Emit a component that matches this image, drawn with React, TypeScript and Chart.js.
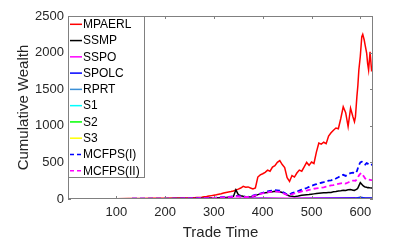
import { useEffect, useRef } from 'react';
import { Chart, registerables } from 'chart.js';
Chart.register(...registerables);

const DAYS = [1, 25, 50, 75, 100, 125, 150, 175, 200, 225, 250,
  255, 260, 265, 270, 275, 280, 285, 290, 295, 300,
  305, 310, 315, 320, 325, 330, 335, 340, 345, 350,
  355, 360, 365, 370, 375, 380, 385, 390, 395, 400,
  405, 410, 415, 420, 425, 430, 435, 440, 445, 450,
  455, 460, 465, 470, 475, 480, 485, 490, 495, 500,
  505, 510, 515, 520, 525, 530, 535, 540, 545, 550,
  555, 560, 565, 570, 575, 580, 585,
  588, 590, 593, 595, 597, 600, 603, 605, 608, 610, 613, 615, 617, 620, 623, 626];

const MPAERL = [1, 2, 3, 4, 5, 6, 7, 9, 11, 13, 15,
  16, 18, 20, 22, 25, 30, 34, 40, 46, 52,
  58, 66, 72, 82, 90, 96, 102, 110, 122, 135,
  150, 172, 160, 165, 150, 138, 150, 300, 330, 345,
  365, 395, 380, 435, 455, 500, 525, 470, 430, 290,
  240, 320, 300, 355, 395, 380, 440, 500, 460, 505,
  485, 640, 765, 750, 775, 755, 860, 905, 940, 970,
  960, 1100, 1260, 1180, 990, 1240, 1120,
  1056, 1120, 1398, 1550, 1762, 1950, 2217, 2250, 2172, 2100, 1994, 1850, 1762, 2012, 1762, 1790];

const SSMP = [1, 1, 2, 2, 3, 3, 4, 4, 5, 6, 7,
  8, 8, 9, 10, 10, 11, 12, 13, 14, 15,
  16, 18, 19, 20, 22, 24, 26, 35, 125, 60,
  45, 38, 32, 28, 27, 30, 45, 60, 70, 80,
  85, 90, 95, 100, 105, 102, 100, 90, 75, 55,
  42, 36, 32, 36, 45, 50, 55, 58, 60, 66,
  70, 74, 78, 82, 84, 86, 88, 90, 98, 102,
  108, 112, 118, 115, 125, 130, 120,
  118, 125, 135, 150, 180, 223, 200, 185, 170, 165, 160, 155, 158, 152, 150, 150];

const MCFPS1 = [1, 1, 2, 2, 3, 3, 4, 4, 5, 6, 7,
  8, 9, 10, 10, 11, 12, 13, 14, 15, 16,
  18, 20, 22, 24, 26, 28, 32, 36, 42, 40,
  36, 34, 30, 30, 34, 45, 55, 65, 75, 85,
  95, 104, 110, 115, 120, 118, 115, 100, 80, 60,
  62, 80, 90, 100, 115, 128, 140, 150, 165, 180,
  192, 202, 215, 222, 230, 240, 250, 255, 265, 280,
  298, 318, 330, 315, 340, 352, 360,
  355, 350, 380, 420, 460, 500, 510, 505, 480, 470, 490, 485, 470, 460, 468, 470];

const MCFPS2 = [1, 1, 2, 2, 3, 3, 4, 4, 5, 6, 7,
  8, 9, 9, 10, 11, 12, 12, 13, 14, 15,
  16, 18, 20, 22, 24, 26, 29, 32, 36, 35,
  32, 30, 27, 27, 30, 40, 50, 60, 70, 78,
  85, 92, 98, 102, 105, 100, 96, 85, 70, 55,
  50, 65, 75, 85, 95, 105, 110, 115, 125, 130,
  140, 145, 150, 155, 160, 168, 175, 185, 190, 200,
  208, 214, 220, 210, 226, 240, 252,
  250, 248, 270, 290, 320, 345, 355, 330, 300, 280, 268, 262, 265, 262, 258, 260];

const LOW_DAYS = [1, 50, 100, 150, 200, 250, 300, 350, 400, 450, 500, 550, 590, 600, 610, 626];
const SSPO = [1, 2, 3, 4, 5, 6, 8, 10, 12, 10, 12, 14, 16, 18, 15, 15];
const SPOLC = [1, 1, 2, 2, 3, 3, 4, 5, 6, 5, 7, 9, 12, 25, 15, 12];
const RPRT = [1, 1, 1, 2, 2, 2, 3, 3, 4, 3, 4, 5, 6, 8, 6, 6];
const S1 = [1, 1, 1, 1, 1, 2, 2, 2, 2, 2, 2, 3, 3, 4, 3, 3];
const S2 = [1, 1, 1, 1, 1, 1, 1, 1, 1, 1, 1, 1, 2, 2, 2, 2];
const S3 = [0, 0, 0, 0, 0, 0, 0, 0, 0, 0, 0, 1, 1, 1, 1, 1];

const SERIES_NAMES = ['MPAERL', 'SSMP', 'SSPO', 'SPOLC', 'RPRT', 'S1', 'S2', 'S3', 'MCFPS(I)', 'MCFPS(II)'];
const X_TICKS = [100, 200, 300, 400, 500, 600];
const Y_TICKS = [0, 500, 1000, 1500, 2000, 2500];

const AXIS = '#808080';
const TEXT = '#262626';
const FONT = 'Liberation Sans, Arial, Helvetica, sans-serif';

const pts = (xs: number[], ys: number[]) => xs.map((x, i) => ({ x, y: ys[i] }));

const boxPlugin = {
  id: 'matlabBox',
  afterDatasetsDraw(chart: any) {
    const { ctx, chartArea: a, scales } = chart;
    const x = scales.x, y = scales.y;
    ctx.save();
    ctx.strokeStyle = AXIS;
    ctx.lineWidth = 1;
    ctx.setLineDash([]);
    ctx.strokeRect(a.left + 0.5, a.top + 0.5, a.right - a.left - 1, a.bottom - a.top - 1);
    ctx.beginPath();
    x.ticks.forEach((t: any) => {
      const px = Math.round(x.getPixelForValue(t.value)) + 0.5;
      ctx.moveTo(px, a.bottom); ctx.lineTo(px, a.bottom - 3);
      ctx.moveTo(px, a.top); ctx.lineTo(px, a.top + 3);
    });
    y.ticks.forEach((t: any) => {
      const py = Math.round(y.getPixelForValue(t.value)) + 0.5;
      ctx.moveTo(a.left, py); ctx.lineTo(a.left + 3, py);
      ctx.moveTo(a.right, py); ctx.lineTo(a.right - 3, py);
    });
    ctx.stroke();
    ctx.restore();
  },
};

const legendPlugin = {
  id: 'insideLegend',
  afterDraw(chart: any) {
    const { ctx, chartArea: a } = chart;
    const left = a.left, top = a.top, w = 76, h = 161;
    ctx.save();
    ctx.fillStyle = '#ffffff';
    ctx.fillRect(left, top, w, h);
    ctx.strokeStyle = AXIS;
    ctx.lineWidth = 1;
    ctx.strokeRect(left + 0.5, top + 0.5, w, h);
    ctx.font = '12px ' + FONT;
    ctx.textBaseline = 'middle';
    ctx.textAlign = 'left';
    chart.data.datasets.forEach((ds: any, i: number) => {
      const yy = top + 8.3 + i * 16.27;
      ctx.beginPath();
      ctx.strokeStyle = ds.borderColor;
      ctx.lineWidth = 1.5;
      ctx.setLineDash(ds.borderDash ? [4, 3] : []);
      ctx.moveTo(left + 2, yy);
      ctx.lineTo(left + 14, yy);
      ctx.stroke();
      ctx.setLineDash([]);
      ctx.fillStyle = '#000000';
      ctx.fillText(ds.label, left + 15, yy + 0.5);
    });
    ctx.restore();
  },
};

export default function App() {
  const ref = useRef<HTMLCanvasElement>(null);
  useEffect(() => {
    const mk = (i: number, xs: number[], ys: number[], color: string, dash?: number[]) => ({
      label: SERIES_NAMES[i],
      data: pts(xs, ys),
      borderColor: color,
      backgroundColor: color,
      borderWidth: dash ? 1.8 : 1.5,
      borderDash: dash,
      pointRadius: 0,
      tension: 0,
      fill: false,
      order: SERIES_NAMES.length - i,
    });
    const chart = new Chart(ref.current!, {
      type: 'line',
      data: {
        datasets: [
          mk(0, DAYS, MPAERL, '#ff0000'),
          mk(1, DAYS, SSMP, '#000000'),
          mk(2, LOW_DAYS, SSPO, '#ff00ff'),
          mk(3, LOW_DAYS, SPOLC, '#0000ff'),
          mk(4, LOW_DAYS, RPRT, '#3a8fd6'),
          mk(5, LOW_DAYS, S1, '#00ffff'),
          mk(6, LOW_DAYS, S2, '#00ff00'),
          mk(7, LOW_DAYS, S3, '#ffff00'),
          mk(8, DAYS, MCFPS1, '#0000ff', [5, 3]),
          mk(9, DAYS, MCFPS2, '#ff00ff', [5, 3]),
        ] as any,
      },
      options: {
        responsive: false,
        animation: false,
        layout: { padding: { left: 0, right: 26, top: 16, bottom: 0 } },
        plugins: { legend: { display: false }, tooltip: { enabled: false } },
        scales: {
          x: {
            type: 'linear',
            min: 1,
            max: 626,
            afterBuildTicks: (s: any) => { s.ticks = X_TICKS.map((v) => ({ value: v })); },
            afterFit: (s: any) => { s.height = 44; },
            grid: { display: false, drawTicks: false },
            border: { display: false },
            ticks: { color: TEXT, font: { family: FONT, size: 13 }, padding: 6, maxRotation: 0, callback: (v: any) => String(v) },
            title: { display: true, text: 'Trade Time', color: TEXT, font: { family: FONT, size: 15 }, padding: { top: 0, bottom: 1 } },
          },
          y: {
            type: 'linear',
            min: 0,
            max: 2500,
            afterBuildTicks: (s: any) => { s.ticks = Y_TICKS.map((v) => ({ value: v })); },
            afterFit: (s: any) => { s.width = 68; },
            grid: { display: false, drawTicks: false },
            border: { display: false },
            ticks: { color: TEXT, font: { family: FONT, size: 13 }, padding: 4, callback: (v: any) => String(v) },
            title: { display: true, text: 'Cumulative Wealth', color: TEXT, font: { family: FONT, size: 15 }, padding: { top: 14.5, bottom: 0 } },
          },
        },
      } as any,
      plugins: [boxPlugin, legendPlugin],
    });
    return () => chart.destroy();
  }, []);
  return (
    <div style={{ position: 'absolute', left: 0, top: 0, width: 399, height: 243, background: '#fff' }}>
      <canvas ref={ref} width={399} height={243} style={{ display: 'block', width: 399, height: 243 }} />
    </div>
  );
}
